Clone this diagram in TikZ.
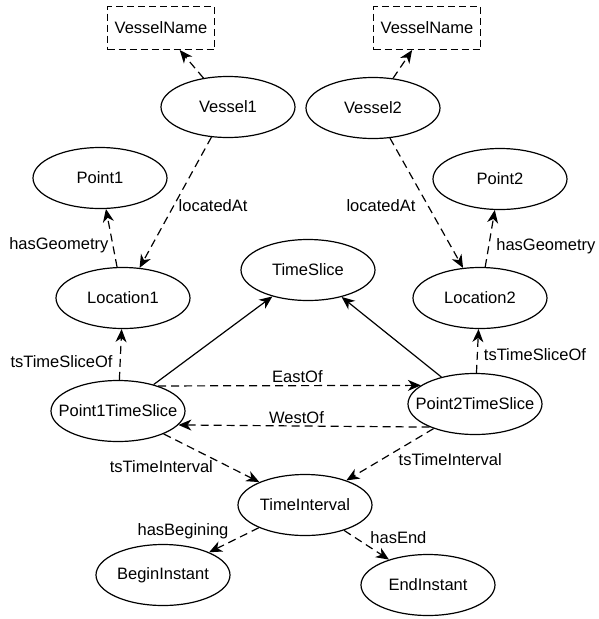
\documentclass[tikz,border=0pt]{standalone}
\usepackage{fontspec}
\setmainfont{Liberation Sans}
\usetikzlibrary{arrows.meta,shapes.geometric}

\begin{document}
\begin{tikzpicture}[x=1pt,y=-1pt,
    txt/.style={font=\fontsize{16.5}{20}\selectfont},
    cls/.style={txt,draw,ellipse,line width=1.2pt,minimum width=134pt,minimum height=61pt,inner xsep=-14pt,inner ysep=0pt},
    lit/.style={txt,draw,dash pattern=on 7pt off 4pt,line width=1.2pt,minimum width=107pt,minimum height=43pt,inner sep=0pt},
    rel/.style={line width=1.2pt,-{Stealth[length=13pt,width=11pt,inset=4pt]}},
    drel/.style={rel,dash pattern=on 8pt off 5pt},
    lbl/.style={txt,inner sep=2pt}]
    \useasboundingbox (0,0) rectangle (598,619);
    % classes and literals
    \node[lit] (vname1) at (161,28) {VesselName};
    \node[lit] (vname2) at (427,28) {VesselName};
    \node[cls] (vessel1) at (228,107) {Vessel1};
    \node[cls] (vessel2) at (373,108) {Vessel2};
    \node[cls] (point1) at (100,178) {Point1};
    \node[cls] (point2) at (500,179) {Point2};
    \node[cls] (loc1) at (123,298) {Location1};
    \node[cls] (loc2) at (480,298) {Location2};
    \node[cls] (tslice) at (308,270) {TimeSlice};
    \node[cls] (p1ts) at (118,411) {Point1TimeSlice};
    \node[cls] (p2ts) at (475,404) {Point2TimeSlice};
    \node[cls] (tint) at (305,505) {TimeInterval};
    \node[cls] (binst) at (163,575) {BeginInstant};
    \node[cls] (einst) at (428,585) {EndInstant};
    % relations
    \draw[drel] (vessel1) -- (vname1);
    \draw[drel] (vessel2) -- (vname2);
    \draw[drel] (vessel1) -- node[lbl,pos=0.52,anchor=west,xshift=2pt] {locatedAt} (loc1);
    \draw[drel] (vessel2) -- node[lbl,pos=0.52,anchor=east,xshift=-10pt] {locatedAt} (loc2);
    \draw[drel] (loc1) -- node[lbl,pos=0.37,anchor=east,xshift=-2pt] {hasGeometry} (point1);
    \draw[drel] (loc2) -- node[lbl,pos=0.37,anchor=west,xshift=5pt] {hasGeometry} (point2);
    \draw[drel] (p1ts) -- node[lbl,pos=0.36,anchor=east,xshift=-5pt] {tsTimeSliceOf} (loc1);
    \draw[drel] (p2ts) -- node[lbl,pos=0.42,anchor=west,xshift=4pt] {tsTimeSliceOf} (loc2);
    \draw[rel] (p1ts) -- (tslice);
    \draw[rel] (p2ts) -- (tslice);
    \draw[drel] (p1ts.32) -- node[lbl,pos=0.53,anchor=south] {EastOf} (p2ts.161);
    \draw[drel] (p2ts.207) -- node[lbl,pos=0.53,anchor=south] {WestOf} (p1ts.347);
    \draw[drel] (p1ts) -- node[lbl,pos=0.5,anchor=north east,xshift=4pt] {tsTimeInterval} (tint);
    \draw[drel] (p2ts) -- node[lbl,pos=0.43,anchor=north west] {tsTimeInterval} (tint);
    \draw[drel] (tint) -- node[lbl,pos=0.56,anchor=south east] {hasBegining} (binst);
    \draw[drel] (tint) -- node[lbl,pos=0.53,anchor=south west] {hasEnd} (einst);
\end{tikzpicture}
\end{document}
